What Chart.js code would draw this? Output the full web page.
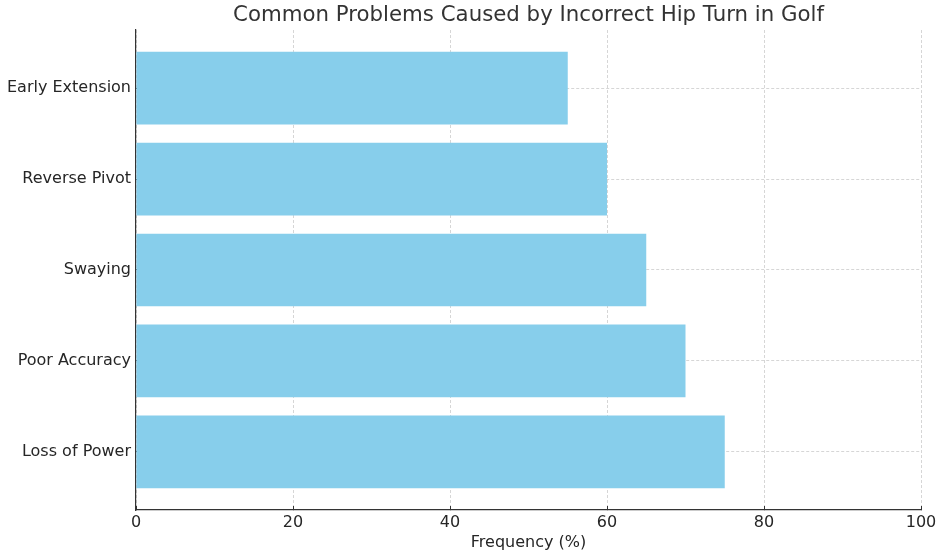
<!DOCTYPE html>
<html>
<head>
<meta charset="utf-8">
<script src="https://cdn.jsdelivr.net/npm/chart.js@4/dist/chart.umd.min.js"></script>
<style>
    html, body { margin: 0; padding: 0; background: #fff; }
    #wrap { width: 946px; height: 556px; }
</style>
</head>
<body>
<div id="wrap"><canvas id="bar-chart"></canvas></div>
<script>
'use strict';

// bottom to top, as in the picture
const problems = ['Loss of Power', 'Poor Accuracy', 'Swaying', 'Reverse Pivot', 'Early Extension'];
const frequency = [75, 70, 65, 60, 55];
const xTicks = [0, 20, 40, 60, 80, 100];
const chartTitle = 'Common Problems Caused by Incorrect Hip Turn in Golf';

const textColor = '#262626';
const gridColor = '#cccccc';

let points = problems.map((name, i) => ({ x: frequency[i], y: i }));

// title centred over the plot area, like matplotlib does
const plotTitle = {
    id: 'plotTitle',
    afterDraw(chart) {
        const c = chart.ctx;
        const area = chart.chartArea;
        c.save();
        c.fillStyle = '#333333';
        c.font = '21.3px "DejaVu Sans"';
        c.textAlign = 'center';
        c.textBaseline = 'middle';
        c.fillText(chartTitle, (area.left + area.right) / 2, 15.5);
        c.restore();
    }
};

let ctx = document.getElementById('bar-chart').getContext('2d');

let chart = new Chart(ctx, {
    type: 'bar',
    data: {
        datasets: [{
            data: points,
            backgroundColor: '#87CEEB',
            borderWidth: 0,
            barPercentage: 0.8,
            categoryPercentage: 1.0
        }]
    },
    plugins: [plotTitle],
    options: {
        indexAxis: 'y',
        responsive: true,
        maintainAspectRatio: false,
        animation: false,
        layout: { padding: { left: 0, right: 25, top: 30, bottom: 0 } },
        plugins: {
            legend: { display: false },
            tooltip: { enabled: false },
            title: { display: false }
        },
        scales: {
            x: {
                type: 'linear',
                min: 0,
                max: 100,
                z: 1,
                afterBuildTicks: (scale) => { scale.ticks = xTicks.map(v => ({ value: v })); },
                afterFit: (scale) => { scale.height = 46; },
                grid: {
                    color: gridColor,
                    lineWidth: 0.8,
                    tickColor: '#333333',
                    tickLength: -4,
                    tickBorderDash: [],
                    tickWidth: 1
                },
                border: { display: true, color: '#333333', width: 1.2, dash: [3, 2] },
                ticks: {
                    color: textColor,
                    padding: 7,
                    font: { family: 'DejaVu Sans', size: 16 }
                },
                title: {
                    display: true,
                    text: 'Frequency (%)',
                    color: textColor,
                    font: { family: 'DejaVu Sans', size: 16 },
                    padding: { top: 0, bottom: 4 }
                }
            },
            y: {
                type: 'linear',
                min: -0.64,
                max: 4.64,
                offset: false,
                z: 1,
                afterBuildTicks: (scale) => { scale.ticks = problems.map((p, i) => ({ value: i })); },
                afterFit: (scale) => { scale.width = 136; },
                grid: {
                    offset: false,
                    color: gridColor,
                    lineWidth: 0.8,
                    tickColor: '#333333',
                    tickLength: -4,
                    tickBorderDash: [],
                    tickWidth: 1
                },
                border: { display: true, color: '#333333', width: 1.2, dash: [3, 2] },
                ticks: {
                    color: textColor,
                    padding: 9,
                    font: { family: 'DejaVu Sans', size: 16 },
                    callback: (value) => problems[value]
                }
            }
        }
    }
});
</script>
</body>
</html>
